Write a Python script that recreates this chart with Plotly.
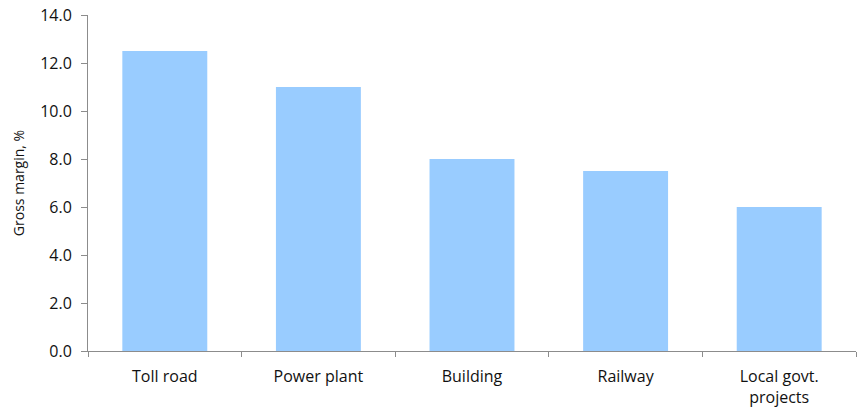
import plotly.graph_objects as go

categories = ["Toll road", "Power plant", "Building", "Railway", "Local govt.<br>projects"]
gross_margin = [12.5, 11.0, 8.0, 7.5, 6.0]
y_ticks = [0, 2, 4, 6, 8, 10, 12, 14]

fig = go.Figure(go.Bar(x=categories, y=gross_margin, marker=dict(color="#99CCFF", line=dict(width=0)),
                       hoverinfo="x+y"))

axis_color = "#8c8c8c"
font_family = "Open Sans, Noto Sans, sans-serif"
fig.update_layout(
    width=857, height=411,
    margin=dict(l=88, r=1, t=15, b=60),
    plot_bgcolor="white", paper_bgcolor="white",
    bargap=0.447,
    showlegend=False,
    font=dict(family=font_family, size=16, color="#111111"),
)
fig.update_xaxes(
    type="category", showline=True, linecolor=axis_color, linewidth=1,
    ticks="outside", tickson="boundaries", ticklen=5, tickcolor=axis_color,
    showgrid=False, tickfont=dict(size=16), ticklabelstandoff=11,
)
fig.update_yaxes(
    range=[0, 14], tickvals=y_ticks, tickformat=".1f",
    showline=True, linecolor=axis_color, linewidth=1,
    ticks="outside", ticklen=6, tickcolor=axis_color,
    showgrid=False, zeroline=False, tickfont=dict(size=16), ticklabelstandoff=6,
    title=dict(text="Gross margin, %", font=dict(size=14), standoff=12),
)
fig.write_html("out.html")
